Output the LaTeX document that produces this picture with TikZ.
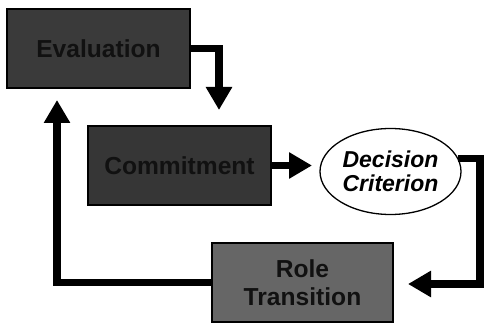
\documentclass[tikz,border=0pt]{standalone}
\usepackage{fontspec}
\setmainfont{Liberation Sans}
\usetikzlibrary{arrows.meta,shapes.geometric}
\definecolor{darkbox}{HTML}{3A3A3A}
\definecolor{darkbox2}{HTML}{363636}
\definecolor{midbox}{HTML}{666666}
\definecolor{boxtext}{HTML}{111111}
\begin{document}
\begin{tikzpicture}[x=1pt,y=-1pt,
  box/.style={draw=black,line width=1.6pt,rectangle,minimum width=183pt,minimum height=79pt,inner sep=0pt,outer sep=0pt,text=boxtext,font=\fontsize{24.6}{28}\selectfont\bfseries,align=center},
  flow/.style={line width=7.5pt,line join=miter,-{Triangle[width=25pt,length=23pt]}}]
\useasboundingbox (0,0) rectangle (484,323);
\node[box,fill=darkbox] (eval) at (98.5,48.5) {Evaluation};
\node[box,fill=darkbox2] (commit) at (179.5,165.5) {Commitment};
\node[box,fill=midbox,minimum width=181pt] (role) at (302.5,282.5) {Role\\Transition};
\node[ellipse,draw=black,line width=1.3pt,fill=white,minimum width=141pt,minimum height=86pt,inner sep=0pt,outer sep=0pt,font=\fontsize{23}{23.5}\selectfont\bfseries\itshape,align=center] (dec) at (390.5,171.5) {Decision\\Criterion};
\coordinate (c1) at (219,110);
\coordinate (c2) at (312,165.5);
\coordinate (c3) at (480,284);
\coordinate (c4) at (408,284);
\coordinate (c5) at (57,100);
\draw[flow] (eval.east) -| (c1);
\draw[flow] (commit.east) -- (c2);
\draw[flow] (dec.11) -| (c3) -- (c4);
\draw[flow] (role.west) -| (c5);
\end{tikzpicture}
\end{document}
